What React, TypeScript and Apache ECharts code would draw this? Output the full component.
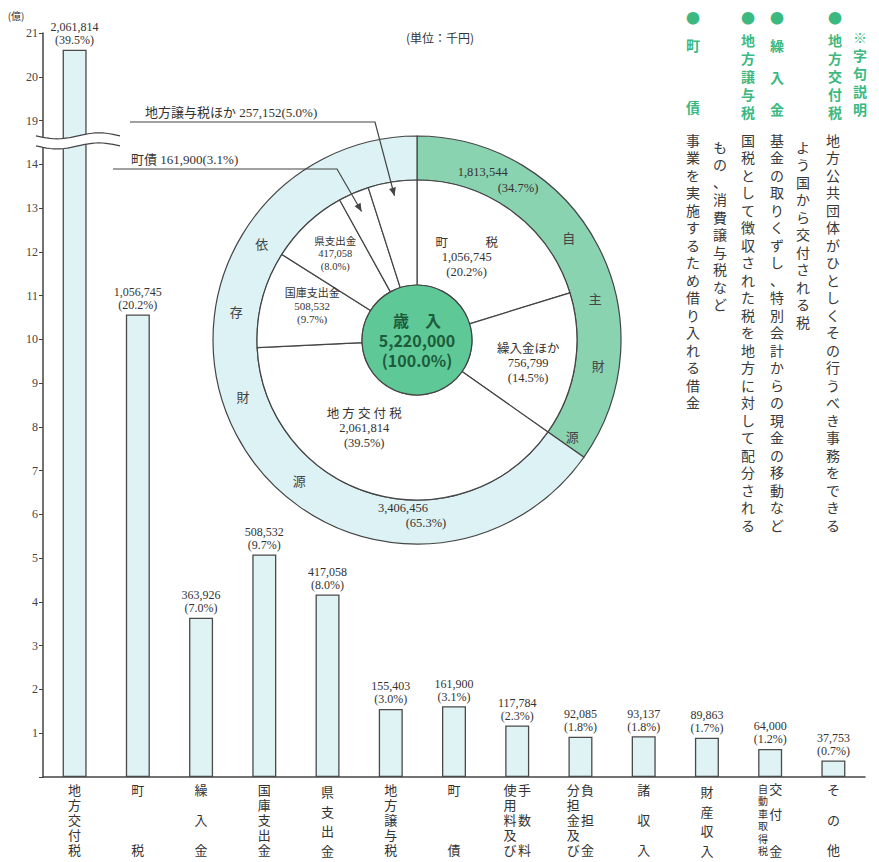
import React, { useEffect, useRef } from 'react';
import * as echarts from 'echarts';

// ---------------- DATA ----------------
const barCategories = [
  '地方交付税', '町税', '繰入金', '国庫支出金', '県支出金', '地方譲与税', '町債',
  '使用料及び手数料', '分担金及び負担金', '諸収入', '財産収入', '自動車取得税交付金', 'その他',
];
// 千円
const barValues = [2061814, 1056745, 363926, 508532, 417058, 155403, 161900, 117784, 92085, 93137, 89863, 64000, 37753];
const barPercents = ['39.5', '20.2', '7.0', '9.7', '8.0', '3.0', '3.1', '2.3', '1.8', '1.8', '1.7', '1.2', '0.7'];

// inner pie (clockwise from top)
const pieNames = ['町税', '繰入金ほか', '地方交付税', '国庫支出金', '県支出金', '町債', '地方譲与税ほか'];
const pieValues = [1056745, 756799, 2061814, 508532, 417058, 161900, 257152];
const piePercents = ['20.2', '14.5', '39.5', '9.7', '8.0', '3.1', '5.0'];

// outer ring
const ringNames = ['自主財源', '依存財源'];
const ringValues = [1813544, 3406456];
const ringPercents = ['34.7', '65.3'];

const totalName = '歳　入';
const totalValue = 5220000;
const totalPercent = '100.0';

// y-axis tick labels (億円); the axis is broken between 14 and 19
const yTickLabels = ['', '1', '2', '3', '4', '5', '6', '7', '8', '9', '10', '11', '12', '13', '14', '19', '20', '21'];
const BREAK_LOW = 15; // values >= 19 are drawn 4 units lower
const BREAK_SKIP = 4;

const unitText = '(単位：千円)';
const yUnitText = '(億)';

const glossTitle = '※字句説明';
const glossTerms = ['地方交付税', '繰入金', '地方譲与税', '町債'];
const glossDescs = [
  ['地方公共団体がひとしくその行うべき事務をできる', 'よう国から交付される税'],
  ['基金の取りくずし、特別会計からの現金の移動など'],
  ['国税として徴収された税を地方に対して配分される', 'もの、消費譲与税など'],
  ['事業を実施するため借り入れる借金'],
];

// ---------------- LAYOUT / STYLE ----------------
const SERIF = '"Liberation Serif", "DejaVu Serif", "Noto Sans CJK JP", serif';
const JP = '"Noto Sans CJK JP", "Noto Sans", sans-serif';
const INK = '#333';
const LINE = '#444';
const BAR_FILL = '#dff3f5';
const GREEN_RING = '#8ad3b1';
const CYAN_RING = '#dcf2f5';
const GREEN_CENTER = '#5ec996';
const GREEN_TEXT = '#3cb981';

const GRID = { left: 43, right: 14, top: 33, bottom: 85 };
const CH = 862;
const Y_MAX = 17;
const PIE_C = [417, 340];
const R_CENTER = 55, R_INNER = 160, R_OUTER = 204;
const OKU = 100000;

const fmt = (n: number) => n.toLocaleString('en-US');
const toAxis = (oku: number) => (oku >= BREAK_LOW + BREAK_SKIP ? oku - BREAK_SKIP : oku);
const yPix = (v: number) => GRID.top + ((Y_MAX - v) / Y_MAX) * (CH - GRID.top - GRID.bottom);

const vert = (s: string, st = 'c') => Array.from(s).map((ch) => `{${st}|${ch}}`).join('\n');
const vert0 = (s: string) => Array.from(s).join('\n');
const two = (l: string, r: string, ls = 'c', rs = 'c') => {
  const L = Array.from(l), R = Array.from(r);
  const n = Math.max(L.length, R.length);
  const rows: string[] = [];
  for (let i = 0; i < n; i++) rows.push(`{${ls}|${L[i] ?? '　'}}{g| }{${rs}|${R[i] ?? '　'}}`);
  return rows.join('\n');
};
const xLabelText: Record<string, string> = {
  '地方交付税': vert('地方交付税'),
  '町税': vert('町　　　税'),
  '繰入金': vert('繰　入　金'),
  '国庫支出金': vert('国庫支出金'),
  '県支出金': vert('県支出金', 'w'),
  '地方譲与税': vert('地方譲与税'),
  '町債': vert('町　　　債'),
  '使用料及び手数料': two('使用料及び', '手　数　料'),
  '分担金及び負担金': two('分担金及び', '負　担　金'),
  '諸収入': vert('諸　収　入'),
  '財産収入': vert('財産収入', 'w'),
  '自動車取得税交付金': two('自動車取得税', '交　付　　金', 's', 'b'),
  'その他': vert('そ　の　他'),
};

// inner pie label look (display title, font size, offset) by slice index
const pieLabelLook = [
  { title: '町　　　税', size: 12.5, offset: [-16, 6], show: true },
  { title: '繰入金ほか', size: 12.5, offset: [2, 6], show: true },
  { title: '地 方 交 付 税', size: 12.5, offset: [-22, -18], show: true },
  { title: '国庫支出金', size: 11, offset: [2, -6], show: true },
  { title: '県支出金', size: 10.5, offset: [-6, -6], show: true },
  { title: '', size: 11, offset: [0, 0], show: false },
  { title: '', size: 11, offset: [0, 0], show: false },
];
// external leaders (slice index -> text/line layout)
const leaders = [
  { idx: 6, textX: 145, lineY: 122, startX: 130, bendX: 375, tipR: 146 },
  { idx: 5, textX: 131, lineY: 169, startX: 113, bendX: 337, tipR: 140 },
];
// ring character angles (deg clockwise from top)
const ringCharAngles = [[56, 77, 98, 122], [302, 279, 252, 220]];
const ringValuePos = [
  [{ a: 21.4, r: 180 }, { a: 33.6, r: 182.5 }],
  [{ a: 184.8, r: 168.5 }, { a: 177.2, r: 183 }],
];

const polar = (aDeg: number, r: number) => {
  const a = (aDeg * Math.PI) / 180;
  return [PIE_C[0] + r * Math.sin(a), PIE_C[1] - r * Math.cos(a)];
};

function buildGraphic() {
  const g: any[] = [];
  const txt = (x: number, y: number, text: string, o: any = {}) => ({
    type: 'text', x, y, z: 50, silent: true,
    style: {
      text, fill: o.fill ?? INK, fontSize: o.size ?? 12, fontFamily: o.family ?? SERIF,
      fontWeight: o.weight ?? 'normal', lineHeight: o.lh, align: o.align ?? 'center',
      verticalAlign: o.va ?? 'middle',
    },
  });

  // axis break
  const yU = yPix(14.65), yL = yPix(14.42);
  const wave = (y0: number) => {
    const pts: number[][] = [];
    for (let i = 0; i <= 24; i++) {
      const x = 36 + (84 * i) / 24;
      pts.push([x, y0 + 3 * Math.sin((2 * Math.PI * (x - 36)) / 84)]);
    }
    return pts;
  };
  const up = wave(yU), lo = wave(yL);
  g.push({ type: 'polygon', z: 60, silent: true, shape: { points: [...up, ...lo.slice().reverse()] }, style: { fill: '#fff' } });
  g.push({ type: 'polyline', z: 61, silent: true, shape: { points: up }, style: { stroke: LINE, lineWidth: 1.2, fill: null } });
  g.push({ type: 'polyline', z: 61, silent: true, shape: { points: lo }, style: { stroke: LINE, lineWidth: 1.2, fill: null } });

  g.push(txt(16, 15, yUnitText, { size: 10, family: JP }));
  g.push(txt(440, 37, unitText, { size: 12, family: JP }));

  // ring texts
  ringNames.forEach((name, i) => {
    Array.from(name).forEach((ch, k) => {
      const [x, y] = polar(ringCharAngles[i][k], 183);
      g.push(txt(x, y, ch, { size: 13, family: JP, fill: '#444' }));
    });
    const [p1, p2] = ringValuePos[i];
    const [x1, y1] = polar(p1.a, p1.r);
    const [x2, y2] = polar(p2.a, p2.r);
    g.push(txt(x1, y1, fmt(ringValues[i]), { size: 12.5 }));
    g.push(txt(x2, y2, `(${ringPercents[i]}%)`, { size: 12.5 }));
  });

  // leaders to small slices
  const pieTotal = pieValues.reduce((a, b) => a + b, 0);
  const cum: number[] = [];
  pieValues.reduce((acc, v, i) => { cum[i] = acc; return acc + v; }, 0);
  leaders.forEach((L) => {
    const mid = ((cum[L.idx] + pieValues[L.idx] / 2) / pieTotal) * 360;
    const [tx, ty] = polar(mid, L.tipR);
    const pts = [[L.startX, L.lineY], [L.bendX, L.lineY], [tx, ty]];
    g.push({ type: 'polyline', z: 55, silent: true, shape: { points: pts }, style: { stroke: LINE, lineWidth: 1.2, fill: null } });
    const dx = tx - L.bendX, dy = ty - L.lineY;
    const len = Math.hypot(dx, dy);
    const ux = dx / len, uy = dy / len;
    const bx = tx - ux * 8, by = ty - uy * 8;
    g.push({
      type: 'polygon', z: 55, silent: true,
      shape: { points: [[tx, ty], [bx - uy * 3.5, by + ux * 3.5], [bx + uy * 3.5, by - ux * 3.5]] },
      style: { fill: LINE },
    });
    g.push(txt(L.textX, L.lineY - 3, `${pieNames[L.idx]} ${fmt(pieValues[L.idx])}(${piePercents[L.idx]}%)`,
      { size: 13, align: 'left', va: 'bottom' }));
  });

  // glossary (vertical text, right side)
  const termX = [835, 777, 748, 693];
  const termTop = [31, 29, 31, 14];
  const termLH = [18, 32, 18, 62];
  const descX = [[833, 803], [777], [748, 720], [693]];
  g.push(txt(860, 28, vert0(glossTitle), { size: 14, family: JP, fill: GREEN_TEXT, weight: 'bold', lh: 18, va: 'top' }));
  glossTerms.forEach((t, i) => {
    g.push(txt(termX[i], 17, '●', { size: 14, family: JP, fill: GREEN_TEXT }));
    g.push(txt(termX[i], termTop[i], vert0(t), { size: 14, family: JP, fill: GREEN_TEXT, weight: 'bold', lh: termLH[i], va: 'top' }));
    glossDescs[i].forEach((d, k) => {
      g.push(txt(descX[i][k], k === 0 ? 131 : 138, vert0(d), { size: 14, family: JP, fill: '#3a3a3a', lh: 17.5, va: 'top' }));
    });
  });
  return g;
}

export default function App() {
  const ref = useRef<HTMLDivElement>(null);
  useEffect(() => {
    if (!ref.current) return;
    const chart = echarts.init(ref.current, undefined, { renderer: 'svg' });
    const option: any = {
      animation: false,
      backgroundColor: '#fff',
      grid: { ...GRID, containLabel: false },
      xAxis: {
        type: 'category',
        data: barCategories,
        axisLine: { lineStyle: { color: LINE, width: 1.5 } },
        axisTick: { show: false },
        axisLabel: {
          interval: 0, margin: 5, color: INK, fontFamily: JP, verticalAlign: 'top',
          formatter: (v: string) => xLabelText[v] ?? vert(v),
          rich: {
            c: { fontSize: 13, lineHeight: 15, fontFamily: JP, color: INK },
            w: { fontSize: 13, lineHeight: 19.5, fontFamily: JP, color: INK },
            s: { fontSize: 10, lineHeight: 12.5, fontFamily: JP, color: INK },
            b: { fontSize: 13, lineHeight: 12.5, fontFamily: JP, color: INK },
            g: { fontSize: 6, lineHeight: 12.5, fontFamily: JP },
          },
        },
      },
      yAxis: {
        type: 'value', min: 0, max: Y_MAX, interval: 1,
        axisLine: { show: true, lineStyle: { color: LINE, width: 1.5 } },
        axisTick: { show: true, length: 4, lineStyle: { color: LINE } },
        splitLine: { show: false },
        axisLabel: {
          margin: 5, color: '#444', fontFamily: SERIF, fontSize: 12,
          formatter: (v: number) => yTickLabels[Math.round(v)] ?? '',
        },
      },
      series: [
        {
          type: 'bar', silent: true,
          data: barValues.map((v) => toAxis(v / OKU)),
          barWidth: 24,
          itemStyle: { color: BAR_FILL, borderColor: '#4a4a4a', borderWidth: 1.3 },
          label: {
            show: true, position: 'top', distance: 3,
            formatter: (p: any) => `${fmt(barValues[p.dataIndex])}\n(${barPercents[p.dataIndex]}%)`,
            fontFamily: SERIF, fontSize: 12, lineHeight: 13, color: INK,
          },
        },
        {
          type: 'pie', silent: true, center: PIE_C, radius: [R_INNER, R_OUTER],
          startAngle: 90, clockwise: true,
          label: { show: false }, labelLine: { show: false },
          emphasis: { disabled: true },
          data: ringNames.map((n, i) => ({
            name: n, value: ringValues[i],
            itemStyle: { color: i === 0 ? GREEN_RING : CYAN_RING, borderColor: LINE, borderWidth: 1.2 },
          })),
        },
        {
          type: 'pie', silent: true, center: PIE_C, radius: [R_CENTER, R_INNER],
          startAngle: 90, clockwise: true,
          labelLine: { show: false },
          emphasis: { disabled: true },
          itemStyle: { color: '#fff', borderColor: LINE, borderWidth: 1.2 },
          data: pieNames.map((n, i) => ({
            name: n, value: pieValues[i],
            label: {
              show: pieLabelLook[i].show, position: 'inside',
              offset: pieLabelLook[i].offset,
              formatter: `${pieLabelLook[i].title}\n${fmt(pieValues[i])}\n(${piePercents[i]}%)`,
              fontFamily: SERIF, fontSize: pieLabelLook[i].size, lineHeight: pieLabelLook[i].size + 2,
              color: INK,
            },
          })),
        },
        {
          type: 'pie', silent: true, center: PIE_C, radius: [0, R_CENTER],
          labelLine: { show: false },
          emphasis: { disabled: true },
          itemStyle: { color: GREEN_CENTER, borderColor: LINE, borderWidth: 1.2 },
          label: {
            show: true, position: 'center',
            formatter: `${totalName}\n${fmt(totalValue)}\n(${totalPercent}%)`,
            fontFamily: JP, fontSize: 16, fontWeight: 'bold', lineHeight: 20, color: '#1d5b3b',
          },
          data: [{ name: totalName, value: totalValue }],
        },
      ],
      graphic: buildGraphic(),
    };
    chart.setOption(option);
    return () => chart.dispose();
  }, []);
  return <div ref={ref} style={{ position: 'absolute', left: 0, top: 0, width: 879, height: 862, background: '#fff' }} />;
}
